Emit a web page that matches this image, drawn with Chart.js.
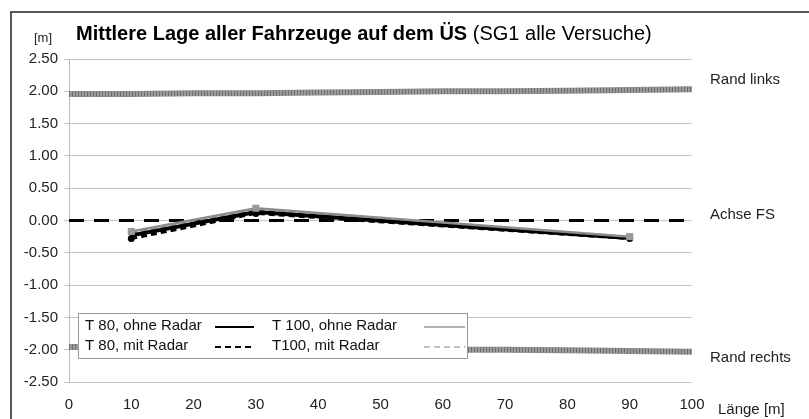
<!DOCTYPE html>
<html>
<head>
<meta charset="utf-8">
<script src="https://cdn.jsdelivr.net/npm/chart.js@4"></script>
<style>
  html, body { margin: 0; padding: 0; background: #fff; }
  #wrap { position: relative; width: 809px; height: 419px; }
</style>
</head>
<body>
<div id="wrap"><canvas id="lageChart" width="809" height="419"></canvas></div>
<script>
// Data
const laenge = [10, 30, 90];
const t80Ohne = [-0.23, 0.13, -0.27];
const t80Mit = [-0.28, 0.11, -0.28];
const t100Ohne = [-0.17, 0.19, -0.25];
const t100Mit = [-0.21, 0.16, -0.27];

const randX = [0, 10, 20, 30, 40, 50, 60, 70, 80, 90, 100];
const randLinks = [1.96, 1.96, 1.97, 1.97, 1.98, 1.99, 2.00, 2.00, 2.01, 2.02, 2.03];
const randRechts = [-1.96, -1.96, -1.97, -1.97, -1.98, -1.99, -2.00, -2.00, -2.01, -2.02, -2.03];
const achseX = [0, 100];
const achseFS = [0, 0];

const xTicks = [0, 10, 20, 30, 40, 50, 60, 70, 80, 90, 100];
const yTicks = [2.5, 2, 1.5, 1, 0.5, 0, -0.5, -1, -1.5, -2, -2.5];

// labels to the right of the plot, anchored at a y value
const endLabels = ['Rand links', 'Achse FS', 'Rand rechts'];
const endLabelY = [2.17, 0.08, -2.12];

const legendNames = ['T 80, ohne Radar', 'T 100, ohne Radar', 'T 80, mit Radar', 'T100, mit Radar'];

const FONT = '"Liberation Sans", Arial, sans-serif';

function pts(xs, ys) {
  return xs.map((x, i) => ({ x: x, y: ys[i] }));
}

// hatched grey pattern for the road edges
function hatch() {
  const c = document.createElement('canvas');
  c.width = 3; c.height = 8;
  const g = c.getContext('2d');
  g.fillStyle = '#9a9a9a';
  g.fillRect(0, 0, 3, 8);
  g.fillStyle = '#707070';
  g.fillRect(0, 0, 1, 8);
  return document.getElementById('lageChart').getContext('2d').createPattern(c, 'repeat');
}
const randPattern = hatch();

const decorPlugin = {
  id: 'decor',
  beforeDraw(chart) {
    const ctx = chart.ctx;
    ctx.save();
    ctx.strokeStyle = '#555';
    ctx.lineWidth = 2;
    ctx.strokeRect(11, 12, 830, 450);
    ctx.restore();
  },
  afterDraw(chart) {
    const ctx = chart.ctx;
    const y = chart.scales.y;
    ctx.save();
    // title
    ctx.fillStyle = '#000';
    ctx.textBaseline = 'alphabetic';
    ctx.font = 'bold 20px ' + FONT;
    const t1 = 'Mittlere Lage aller Fahrzeuge auf dem ÜS';
    ctx.fillText(t1, 76, 40);
    const w1 = ctx.measureText(t1).width;
    ctx.font = '20px ' + FONT;
    ctx.fillText(' (SG1 alle Versuche)', 76 + w1, 40);
    ctx.font = '13px ' + FONT;
    ctx.fillStyle = '#222';
    ctx.fillText('[m]', 34, 42);

    // labels on the right
    ctx.font = '15px ' + FONT;
    ctx.textBaseline = 'middle';
    endLabels.forEach((t, i) => {
      ctx.fillText(t, 710, y.getPixelForValue(endLabelY[i]));
    });
    ctx.fillText('Länge [m]', 718, 410);

    // legend box
    ctx.fillStyle = '#fff';
    ctx.fillRect(78, 313, 389, 45);
    ctx.strokeStyle = '#999';
    ctx.lineWidth = 1;
    ctx.strokeRect(78.5, 313.5, 389, 45);
    ctx.fillStyle = '#111';
    ctx.font = '15px ' + FONT;
    const rows = [326, 346];
    ctx.fillText(legendNames[0], 85, rows[0]);
    ctx.fillText(legendNames[1], 272, rows[0]);
    ctx.fillText(legendNames[2], 85, rows[1]);
    ctx.fillText(legendNames[3], 272, rows[1]);
    const sample = (x0, x1, yy, color, w, dash) => {
      ctx.beginPath();
      ctx.setLineDash(dash);
      ctx.strokeStyle = color;
      ctx.lineWidth = w;
      ctx.moveTo(x0, yy);
      ctx.lineTo(x1, yy);
      ctx.stroke();
    };
    sample(215, 254, rows[0] + 1, '#000', 2, []);
    sample(424, 465, rows[0] + 1, '#999', 1.5, []);
    sample(215, 254, rows[1] + 1, '#000', 2, [6, 4]);
    sample(424, 465, rows[1] + 1, '#aaa', 1.5, [6, 4]);
    ctx.restore();
  }
};

// first dataset is painted on top
new Chart(document.getElementById('lageChart'), {
  type: 'line',
  data: {
    datasets: [
      {
        label: legendNames[1],
        data: pts(laenge, t100Ohne),
        borderColor: '#8c8c8c',
        borderWidth: 2.5,
        pointStyle: 'rect',
        pointRadius: 5,
        pointBackgroundColor: '#999',
        pointBorderWidth: 0
      },
      {
        label: legendNames[0],
        data: pts(laenge, t80Ohne),
        borderColor: '#000',
        borderWidth: 4,
        pointRadius: 0
      },
      {
        label: legendNames[2],
        data: pts(laenge, t80Mit),
        borderColor: '#000',
        borderWidth: 3,
        borderDash: [6, 4],
        pointStyle: 'circle',
        pointRadius: 3.5,
        pointBackgroundColor: '#000',
        pointBorderWidth: 0
      },
      {
        label: legendNames[3],
        data: pts(laenge, t100Mit),
        borderColor: '#999',
        borderWidth: 3,
        borderDash: [6, 4],
        pointRadius: 0
      },
      {
        label: 'Achse FS',
        data: pts(achseX, achseFS),
        borderColor: '#000',
        borderWidth: 3,
        borderDash: [15, 10],
        pointRadius: 0
      },
      {
        label: 'Rand links',
        data: pts(randX, randLinks),
        borderColor: randPattern,
        borderWidth: 6,
        pointRadius: 0
      },
      {
        label: 'Rand rechts',
        data: pts(randX, randRechts),
        borderColor: randPattern,
        borderWidth: 6,
        pointRadius: 0
      }
    ]
  },
  options: {
    responsive: false,
    animation: false,
    layout: {
      padding: { left: 0, right: 117, top: 59, bottom: 0 }
    },
    scales: {
      x: {
        type: 'linear',
        min: 0,
        max: 100,
        afterBuildTicks: (axis) => { axis.ticks = xTicks.map(v => ({ value: v })); },
        afterFit: (axis) => { axis.height = 37; },
        border: { display: false },
        grid: { display: false, drawTicks: false },
        ticks: {
          padding: 14,
          color: '#222',
          font: { family: FONT, size: 15 },
          maxRotation: 0
        }
      },
      y: {
        min: -2.5,
        max: 2.5,
        afterBuildTicks: (axis) => { axis.ticks = yTicks.map(v => ({ value: v })); },
        afterFit: (axis) => { axis.width = 69; },
        border: { display: true, color: '#bbb', width: 1 },
        grid: { color: '#c4c4c4', lineWidth: 1, tickLength: 5, drawTicks: true },
        ticks: {
          padding: 6,
          color: '#222',
          font: { family: FONT, size: 15 },
          callback: (v) => v.toFixed(2)
        }
      }
    },
    plugins: {
      legend: { display: false },
      tooltip: { enabled: false }
    }
  },
  plugins: [decorPlugin]
});
</script>
</body>
</html>
